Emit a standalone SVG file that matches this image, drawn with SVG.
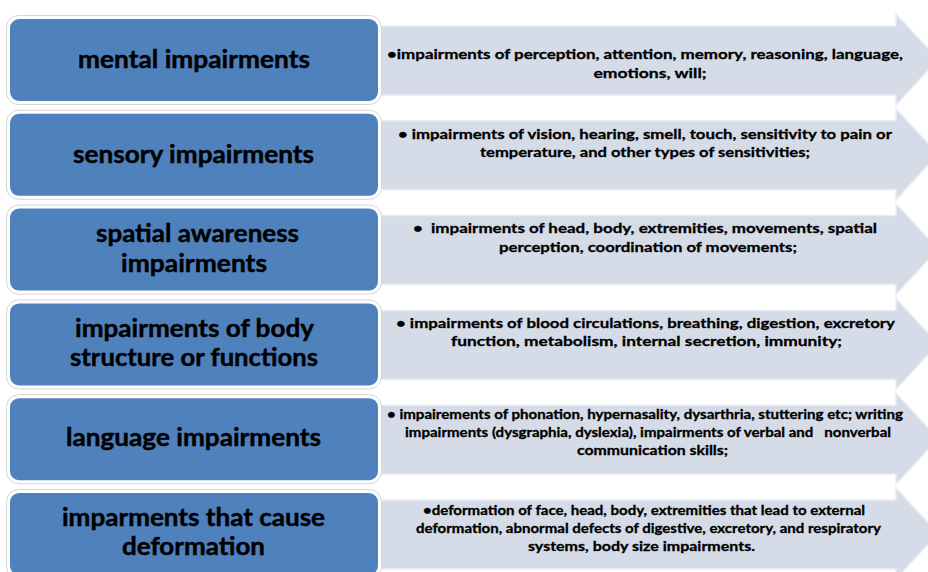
<svg xmlns="http://www.w3.org/2000/svg" width="928" height="572" viewBox="0 0 928 572">
<defs>
<style>
.arrow{fill:#D5DBE7;stroke:#E9EDF4;stroke-width:1.5}
.frame{fill:#FFFFFF;stroke:#D6D6D6;stroke-width:1}
.box{fill:#4F81BD}
.t{font-family:Lato,"Open Sans","Liberation Sans",sans-serif;font-weight:bold;fill:#000;text-anchor:middle;stroke:#000}
.bt{font-size:24px;stroke-width:0.45}
.at{font-size:14px;stroke-width:0.3}
.at5{font-size:13px;stroke-width:0.3}
</style>
<path id="arr" d="M378,7 H896 V-5 L938,40.5 L896,86 V76 H378 Z"/>
</defs>
<rect width="928" height="572" fill="#FFFFFF"/>

<g id="desc-mental" transform="translate(0,19)">
<use href="#arr" class="arrow"/>
</g>
<g id="desc-sensory" transform="translate(0,113.8)">
<use href="#arr" class="arrow"/>
</g>
<g id="desc-spatial" transform="translate(0,208.6)">
<use href="#arr" class="arrow"/>
</g>
<g id="desc-body" transform="translate(0,303.4)">
<use href="#arr" class="arrow"/>
</g>
<g id="desc-language" transform="translate(0,398.2)">
<use href="#arr" class="arrow"/>
</g>
<g id="desc-deformation" transform="translate(0,493)">
<use href="#arr" class="arrow"/>
</g>

<g id="arrow-texts" class="t at">
<text x="645" y="59" textLength="516" lengthAdjust="spacingAndGlyphs">•impairments of perception, attention, memory, reasoning, language,</text>
<text x="650" y="78" textLength="113" lengthAdjust="spacingAndGlyphs">emotions, will;</text>
<text x="645" y="139" textLength="494" lengthAdjust="spacingAndGlyphs">• impairments of vision, hearing, smell, touch, sensitivity to pain or</text>
<text x="645" y="157" textLength="330" lengthAdjust="spacingAndGlyphs">temperature, and other types of sensitivities;</text>
<text x="645" y="233" textLength="464" lengthAdjust="spacingAndGlyphs" xml:space="preserve">•  impairments of head, body, extremities, movements, spatial</text>
<text x="648" y="252" textLength="298" lengthAdjust="spacingAndGlyphs">perception, coordination of movements;</text>
<text x="645.5" y="328" textLength="499" lengthAdjust="spacingAndGlyphs">• impairments of blood circulations, breathing, digestion, excretory</text>
<text x="646.5" y="346" textLength="391" lengthAdjust="spacingAndGlyphs">function, metabolism, internal secretion, immunity;</text>
</g>
<g id="arrow-texts-3" class="t at5">
<text x="645" y="419" textLength="516" lengthAdjust="spacingAndGlyphs">• impairements of phonation, hypernasality, dysarthria, stuttering etc; writing</text>
<text x="648" y="437" textLength="486" lengthAdjust="spacingAndGlyphs" xml:space="preserve">impairments (dysgraphia, dyslexia), impairments of verbal and   nonverbal</text>
<text x="652.5" y="455" textLength="151" lengthAdjust="spacingAndGlyphs">communication skills;</text>
<text x="644" y="515" textLength="442" lengthAdjust="spacingAndGlyphs">•deformation of face, head, body, extremities that lead to external</text>
<text x="648.5" y="533" textLength="465" lengthAdjust="spacingAndGlyphs">deformation, abnormal defects of digestive, excretory, and respiratory</text>
<text x="641.5" y="551" textLength="227" lengthAdjust="spacingAndGlyphs">systems, body size impairments.</text>
</g>

<g id="cat-mental">
<rect class="frame" x="6.5" y="15.5" width="375" height="89" rx="12"/>
<rect class="box" x="10" y="19" width="368" height="82" rx="9"/>
<text class="t bt" x="194" y="68" textLength="232" lengthAdjust="spacingAndGlyphs">mental impairments</text>
</g>
<g id="cat-sensory">
<rect class="frame" x="6.5" y="110.3" width="375" height="89" rx="12"/>
<rect class="box" x="10" y="113.8" width="368" height="82" rx="9"/>
<text class="t bt" x="193.5" y="163" textLength="241" lengthAdjust="spacingAndGlyphs">sensory impairments</text>
</g>
<g id="cat-spatial">
<rect class="frame" x="6.5" y="205.1" width="375" height="89" rx="12"/>
<rect class="box" x="10" y="208.6" width="368" height="82" rx="9"/>
<text class="t bt" x="197.5" y="242" textLength="203" lengthAdjust="spacingAndGlyphs">spatial awareness</text>
<text class="t bt" x="194" y="272" textLength="146" lengthAdjust="spacingAndGlyphs">impairments</text>
</g>
<g id="cat-body">
<rect class="frame" x="6.5" y="299.9" width="375" height="89" rx="12"/>
<rect class="box" x="10" y="303.4" width="368" height="82" rx="9"/>
<text class="t bt" x="194.5" y="337" textLength="239" lengthAdjust="spacingAndGlyphs">impairments of body</text>
<text class="t bt" x="194" y="366" textLength="248" lengthAdjust="spacingAndGlyphs">structure or functions</text>
</g>
<g id="cat-language">
<rect class="frame" x="6.5" y="394.7" width="375" height="89" rx="12"/>
<rect class="box" x="10" y="398.2" width="368" height="82" rx="9"/>
<text class="t bt" x="193.5" y="446" textLength="255" lengthAdjust="spacingAndGlyphs">language impairments</text>
</g>
<g id="cat-deformation">
<rect class="frame" x="6.5" y="489.5" width="375" height="89" rx="12"/>
<rect class="box" x="10" y="493" width="368" height="82" rx="9"/>
<text class="t bt" x="193.5" y="526" textLength="263" lengthAdjust="spacingAndGlyphs">imparments that cause</text>
<text class="t bt" x="193.5" y="555" textLength="143" lengthAdjust="spacingAndGlyphs">deformation</text>
</g>
</svg>
